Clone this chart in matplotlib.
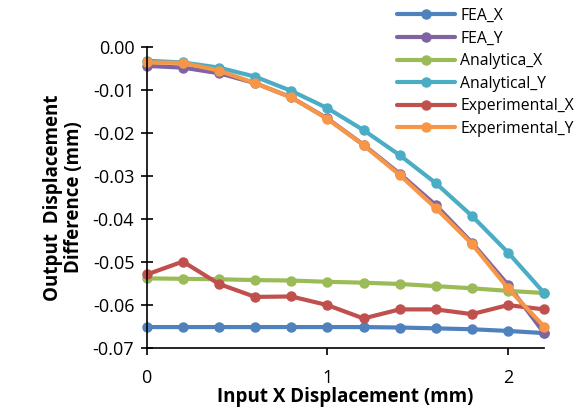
import matplotlib
matplotlib.use("Agg")
from matplotlib import pyplot as plt

plt.rcParams['font.family'] = ['Open Sans', 'DejaVu Sans']

x = [0, 0.2, 0.4, 0.6, 0.8, 1.0, 1.2, 1.4, 1.6, 1.8, 2.0, 2.2]

fea_x = [-0.0651, -0.0651, -0.0651, -0.0651, -0.0651, -0.0651, -0.0651, -0.0652, -0.0654, -0.0656, -0.0660, -0.0665]
fea_y = [-0.0045, -0.0049, -0.0062, -0.0085, -0.0118, -0.0167, -0.0228, -0.0295, -0.0368, -0.0455, -0.0553, -0.0665]
ana_x = [-0.0538, -0.0539, -0.0540, -0.0542, -0.0543, -0.0546, -0.0548, -0.0551, -0.0556, -0.0561, -0.0567, -0.0572]
ana_y = [-0.0033, -0.0037, -0.0049, -0.0070, -0.0103, -0.0143, -0.0194, -0.0252, -0.0317, -0.0393, -0.0478, -0.0572]
exp_x = [-0.0529, -0.0499, -0.0551, -0.0581, -0.0580, -0.0600, -0.0631, -0.0610, -0.0610, -0.0621, -0.0600, -0.0610]
exp_y = [-0.0037, -0.0038, -0.0056, -0.0085, -0.0118, -0.0168, -0.0229, -0.0298, -0.0375, -0.0458, -0.0561, -0.0650]

series = [
    ("FEA_X", fea_x, "#4F81BD"),
    ("FEA_Y", fea_y, "#8064A2"),
    ("Analytica_X", ana_x, "#9BBB59"),
    ("Analytical_Y", ana_y, "#4BACC6"),
    ("Experimental_X", exp_x, "#C0504D"),
    ("Experimental_Y", exp_y, "#F79646"),
]

fig = plt.figure(figsize=(5.87, 4.19), dpi=100)
ax = fig.add_axes([0.25, 0.169, 0.677, 0.72])

for name, vals, col in series:
    ax.plot(x, vals, color=col, lw=3, marker="o", markersize=6.5,
            label=name, clip_on=False, solid_capstyle="round")

ax.set_xlim(0, 2.2)
ax.set_ylim(-0.07, 0.0)
ax.set_xticks([0, 1, 2])
ax.set_xticklabels(["0", "1", "2"])
ax.set_yticks([0, -0.01, -0.02, -0.03, -0.04, -0.05, -0.06, -0.07])
ax.set_yticklabels(["0.00", "-0.01", "-0.02", "-0.03", "-0.04", "-0.05", "-0.06", "-0.07"])
ax.tick_params(axis="y", direction="inout", length=8, width=1.2, labelsize=13, pad=5)
ax.tick_params(axis="x", direction="out", length=5, width=1.2, labelsize=13, pad=10)

for s in ["top", "right"]:
    ax.spines[s].set_visible(False)
for s in ["left", "bottom"]:
    ax.spines[s].set_linewidth(1.2)

ax.set_xlabel("Input X Displacement (mm)", fontsize=13.5, fontweight="bold", labelpad=0)
ax.set_ylabel("Output  Displacement\nDifference (mm)", fontsize=13.5, fontweight="bold",
              labelpad=6, linespacing=1.1)

fig.legend(loc="upper left", bbox_to_anchor=(0.652, 1.015), frameon=False,
           fontsize=11.3, handlelength=3.7, labelspacing=0.42, handletextpad=0.35)

fig.savefig("out.png", dpi=100)
